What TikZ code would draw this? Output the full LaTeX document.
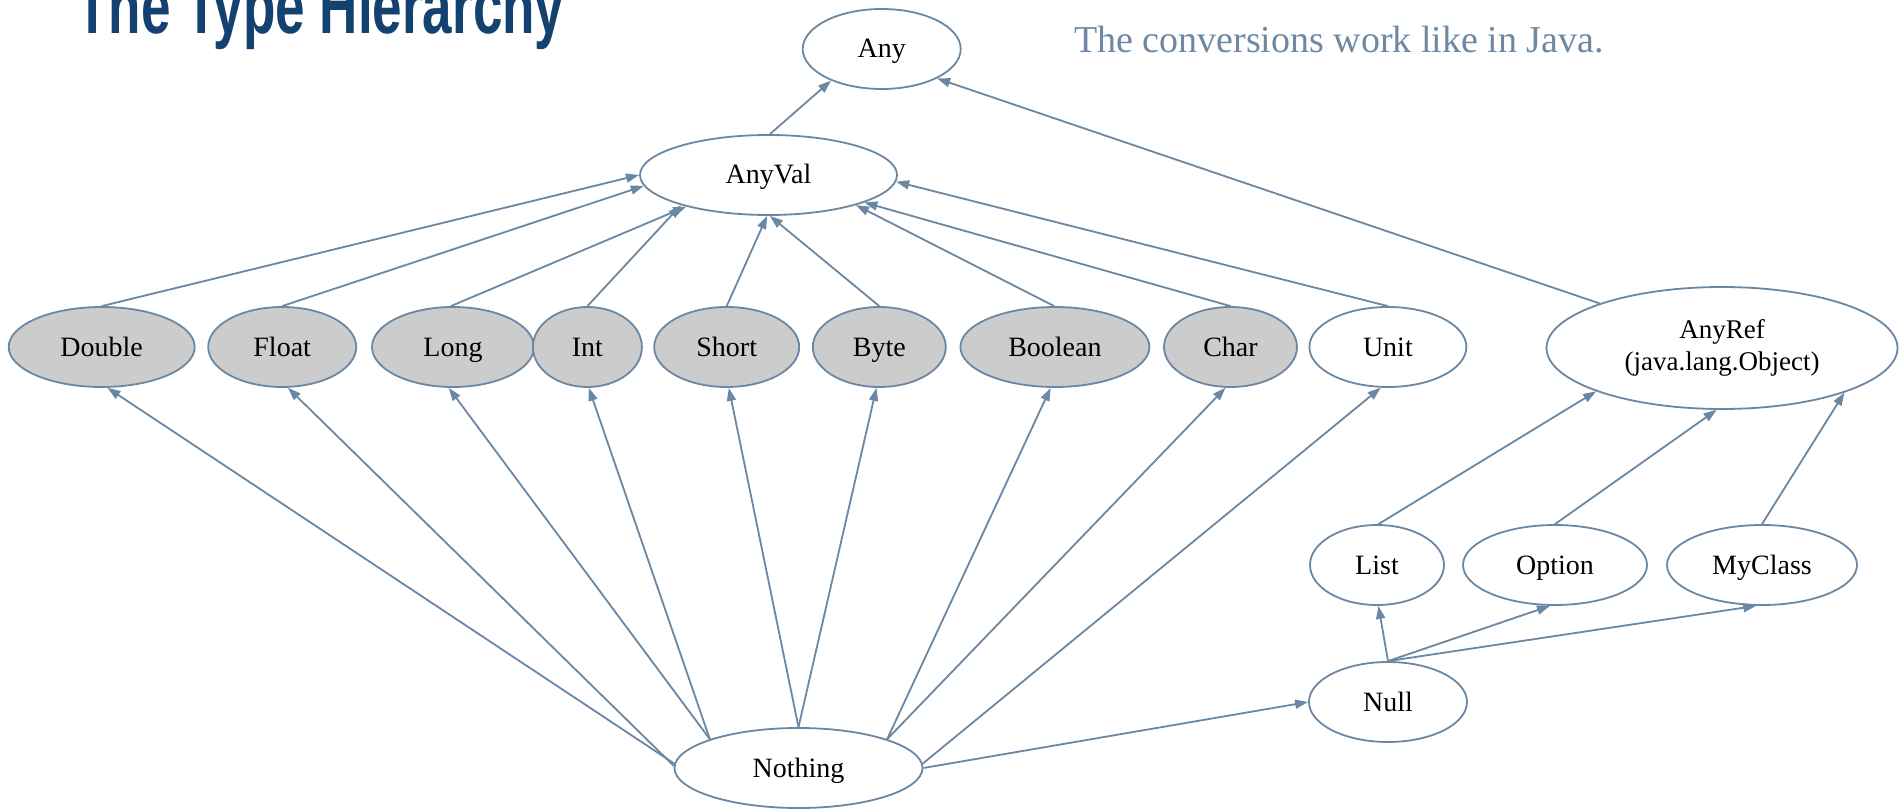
\documentclass[tikz,border=0pt]{standalone}
\usepackage{fontspec}
\setmainfont{Liberation Serif}
\newfontfamily\titlefont{Liberation Sans}
\usetikzlibrary{shapes.geometric,arrows.meta}
\definecolor{edgeblue}{HTML}{6A87A3}
\definecolor{titleblue}{HTML}{134170}
\definecolor{primgray}{HTML}{CCCCCC}
\definecolor{notecolor}{HTML}{6E88A4}

\begin{document}
\begin{tikzpicture}[x=1pt,y=-1pt,
  typenode/.style={ellipse, draw=edgeblue, line width=1.8pt, fill=white,
    inner sep=0pt, minimum height=80pt, text=black,
    text height=24pt, text depth=6pt,
    font=\fontsize{28}{32}\selectfont},
  prim/.style={typenode, fill=primgray},
  sub/.style={draw=edgeblue, line width=1.8pt,
    -{Triangle[length=13pt,width=9pt]}},
]
\fill[white] (0,0) rectangle (1899,810);
\useasboundingbox (0,0) rectangle (1899,810);

% heading, cut off by the top edge
\begin{scope}
  \clip (0,0) rectangle (1899,810);
  \node[anchor=base west, inner sep=0pt, text=titleblue,
    font=\titlefont\bfseries\fontsize{78}{84}\selectfont] (title) at (76,34)
    {\scalebox{0.68}[1]{The Type Hierarchy}};
\end{scope}

\node[anchor=base west, inner sep=0pt, text=notecolor,
  font=\fontsize{38}{44}\selectfont] (note) at (1074,53)
  {The conversions work like in Java.};

% top of the hierarchy
\node[typenode, minimum width=158pt] (any) at (881.7,49) {Any};
\node[typenode, minimum width=257pt] (anyval) at (768.5,175) {AnyVal};
\node[typenode, minimum width=351pt, minimum height=122pt, align=center,
  text height={}, text depth={},
  font=\fontsize{27}{32}\selectfont] (anyref) at (1722,348)
  {AnyRef\\(java.lang.Object)};

% value types
\node[prim, minimum width=186pt] (double) at (101.7,347) {Double};
\node[prim, minimum width=148pt] (float) at (282.2,347) {Float};
\node[prim, minimum width=162pt] (long) at (453,347) {Long};
\node[prim, minimum width=109pt] (int) at (587.4,347) {Int};
\node[prim, minimum width=145pt] (short) at (726.7,347) {Short};
\node[prim, minimum width=133pt] (byte) at (879.3,347) {Byte};
\node[prim, minimum width=189pt] (boolean) at (1054.9,347) {Boolean};
\node[prim, minimum width=133pt] (char) at (1230.5,347) {Char};
\node[typenode, minimum width=157pt] (unit) at (1387.9,347) {Unit};

% reference types
\node[typenode, minimum width=134pt] (list) at (1377,565) {List};
\node[typenode, minimum width=184pt] (option) at (1555,565) {Option};
\node[typenode, minimum width=190pt] (myclass) at (1762,565) {MyClass};

% bottom types
\node[typenode, minimum width=158pt] (null) at (1388,702) {Null};
\node[typenode, minimum width=248pt] (nothing) at (798.5,768) {Nothing};

% subtype edges
\draw[sub] (anyval.88) -- (any.212);
\draw[sub] (anyref.160) -- (any.332);

\draw[sub] (double.90) -- (anyval.180);
\draw[sub] (float.90) -- (anyval.185);
\draw[sub] (long.93) -- (anyval.201);
\draw[sub] (int.90) -- (anyval.199);
\draw[sub] (short.90) -- (anyval.268);
\draw[sub] (byte.90) -- (anyval.272);
\draw[sub] (boolean.91) -- (anyval.341);
\draw[sub] (char.90) -- (anyval.344);
\draw[sub] (unit.90) -- (anyval.357);

\draw[sub] (list.88) -- (anyref.199);
\draw[sub] (option.90) -- (anyref.265);
\draw[sub] (myclass.90) -- (anyref.340);

\draw[sub] (null.90) -- (list.272);
\draw[sub] (null.90) -- (option.263);
\draw[sub] (null.90) -- (myclass.262);

\draw[sub] (nothing.178) -- (double.278);
\draw[sub] (nothing.179) -- (float.278);
\draw[sub] (nothing.162) -- (long.264);
\draw[sub] (nothing.162) -- (int.272);
\draw[sub] (nothing.90) -- (short.273);
\draw[sub] (nothing.90) -- (byte.266);
\draw[sub] (nothing.18) -- (boolean.264);
\draw[sub] (nothing.18) -- (char.263);
\draw[sub] (nothing.2) -- (unit.260);
\draw[sub] (nothing.0) -- (null.180);
\end{tikzpicture}
\end{document}
